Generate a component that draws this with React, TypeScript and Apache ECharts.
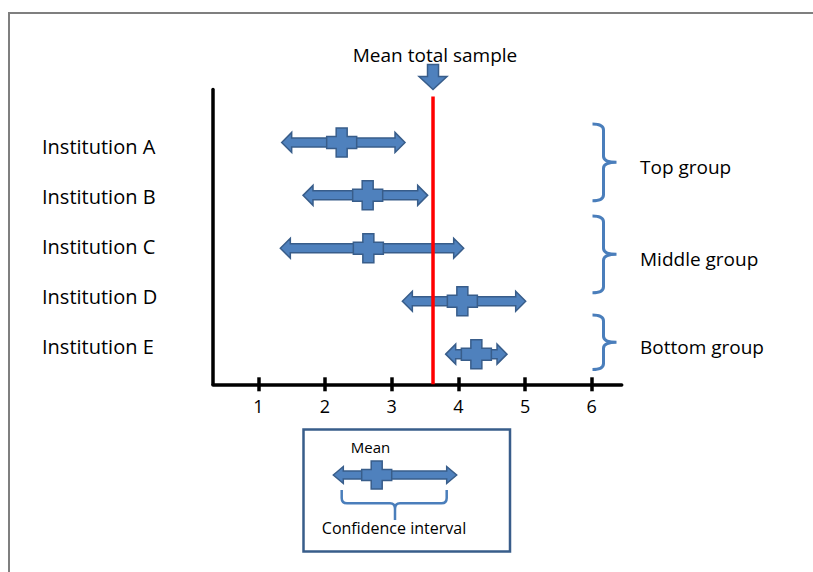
import React, { useEffect, useRef } from "react";
import * as echarts from "echarts";

// ---------- data ----------
const institutions = ["Institution A", "Institution B", "Institution C", "Institution D", "Institution E"];
const ciLow = [1.35, 1.67, 1.33, 3.16, 3.81];
const means = [2.25, 2.64, 2.65, 4.06, 4.27];
const ciHigh = [3.2, 3.54, 4.08, 5.01, 4.73];
const totalMean = 3.62;
const xTicks = [1, 2, 3, 4, 5, 6];
const groupNames = ["Top group", "Middle group", "Bottom group"];
const groupFrom = [-0.35, 1.39, 3.26];
const groupTo = [1.1, 2.84, 4.29];

// ---------- style ----------
const FONT = "'Open Sans', 'Noto Sans', sans-serif";
const FILL = "#4F81BD";
const EDGE = "#385D8A";
const BRACE = "#4A7EBB";
const X_MIN = 0.32;
const X_MAX = 6.45;
const Y_MIN = -1;
const Y_MAX = 4.57;

function arrowPoints(x1: number, x2: number, y: number, sh: number, hh: number, hl: number) {
  return [
    [x1, y], [x1 + hl, y - hh], [x1 + hl, y - sh], [x2 - hl, y - sh], [x2 - hl, y - hh],
    [x2, y], [x2 - hl, y + hh], [x2 - hl, y + sh], [x1 + hl, y + sh], [x1 + hl, y + hh],
  ];
}
function plusPoints(cx: number, cy: number, a: number, b: number, c: number, d: number) {
  return [
    [cx - c, cy - d], [cx + c, cy - d], [cx + c, cy - b], [cx + a, cy - b], [cx + a, cy + b],
    [cx + c, cy + b], [cx + c, cy + d], [cx - c, cy + d], [cx - c, cy + b], [cx - a, cy + b],
    [cx - a, cy - b], [cx - c, cy - b],
  ];
}

const legendBracePath =
  "M 341.7 490 L 341.7 498 Q 341.7 503.3 347 503.3 L 390 503.3 Q 395 503.3 395 509 L 395 520 " +
  "M 395 509 Q 395 503.3 400 503.3 L 441.4 503.3 Q 446.7 503.3 446.7 498 L 446.7 490";

export default function App() {
  const ref = useRef<HTMLDivElement>(null);
  useEffect(() => {
    document.body.style.margin = "0";
    if (!ref.current) return;
    try {
      echarts.graphic.registerShape("legendBrace", echarts.graphic.extendPath(legendBracePath, {}) as any);
    } catch (e) {}
    const chart = echarts.init(ref.current, null, { renderer: "svg" });

    const tickStyle = { color: "#000", width: 3.5 };
    const option: any = {
      animation: false,
      backgroundColor: "#fff",
      grid: { left: 213, right: 191.3, top: 89.5, bottom: 187.7, containLabel: false, outerBoundsMode: "none" },
      xAxis: [
        {
          type: "value", min: X_MIN, max: X_MAX, position: "bottom",
          axisLine: { onZero: false, lineStyle: { color: "#000", width: 3.5 } },
          axisTick: { show: true, customValues: xTicks, length: 7, lineStyle: tickStyle },
          axisLabel: { customValues: xTicks, margin: 13, color: "#000", fontSize: 18, fontFamily: FONT },
          splitLine: { show: false },
        },
        {
          type: "value", min: X_MIN, max: X_MAX, position: "bottom", gridIndex: 0,
          axisLine: { show: false, onZero: false },
          axisTick: { show: true, inside: true, customValues: xTicks, length: 7, lineStyle: tickStyle },
          axisLabel: { show: false },
          splitLine: { show: false },
        },
      ],
      yAxis: [
        {
          type: "value", inverse: true, min: Y_MIN, max: Y_MAX, position: "left",
          axisLine: { show: true, onZero: false, lineStyle: { color: "#000", width: 3.5 } },
          axisTick: { show: false }, axisLabel: { show: false }, splitLine: { show: false },
        },
        {
          type: "value", inverse: true, min: -1.14, max: 4.746, position: "left",
          axisLine: { show: false, onZero: false }, axisTick: { show: false }, splitLine: { show: false },
          axisLabel: {
            customValues: [0, 1, 2, 3, 4],
            formatter: (v: number) => institutions[Math.round(v)] ?? "",
            align: "left", margin: 171, fontSize: 20, color: "#000", fontFamily: FONT,
          },
        },
      ],
      graphic: [
        { type: "rect", shape: { x: 9, y: 13, width: 1000, height: 1000 }, style: { fill: "none", stroke: "#7F7F7F", lineWidth: 2 }, z: 1 },
        { type: "rect", shape: { x: 303.5, y: 429.5, width: 206.5, height: 122 }, style: { fill: "#fff", stroke: EDGE, lineWidth: 2.5 }, z: 1 },
        { type: "text", x: 370.5, y: 447, style: { text: "Mean", fontSize: 15, fontFamily: FONT, fill: "#000", align: "center", verticalAlign: "middle" }, z: 2 },
        { type: "polygon", shape: { points: arrowPoints(333.3, 456.7, 475, 4, 8.5, 10) }, style: { fill: FILL, stroke: EDGE, lineWidth: 1.5 }, z: 2 },
        { type: "polygon", shape: { points: plusPoints(376.7, 475, 15, 5.5, 5.5, 14) }, style: { fill: FILL, stroke: EDGE, lineWidth: 1.5 }, z: 3 },
        { type: "legendBrace", x: 0, y: 0, style: { fill: "none", stroke: BRACE, lineWidth: 2.5 }, z: 2 },
        { type: "text", x: 394, y: 528, style: { text: "Confidence interval", fontSize: 16, fontFamily: FONT, fill: "#000", align: "center", verticalAlign: "middle" }, z: 2 },
      ],
      series: [
        {
          type: "custom", name: "institutions", clip: false, silent: true, z: 3,
          xAxisIndex: 0, yAxisIndex: 0,
          encode: { x: [0, 1, 2], y: 3 },
          data: institutions.map((_, i) => [ciLow[i], ciHigh[i], means[i], i]),
          renderItem: (params: any, api: any) => {
            const row = api.value(3);
            const lo = api.coord([api.value(0), row]);
            const hi = api.coord([api.value(1), row]);
            const m = api.coord([api.value(2), row]);
            return {
              type: "group",
              children: [
                { type: "polygon", shape: { points: arrowPoints(lo[0], hi[0], lo[1], 4.5, 10, 10) }, style: { fill: FILL, stroke: EDGE, lineWidth: 1.5 } },
                { type: "polygon", shape: { points: plusPoints(m[0], m[1], 15, 6, 5.5, 14.5) }, style: { fill: FILL, stroke: EDGE, lineWidth: 1.5 } },
              ],
            };
          },
        },
        {
          type: "custom", name: "totalMean", clip: false, silent: true, z: 5,
          xAxisIndex: 0, yAxisIndex: 0,
          encode: { x: 0, y: 1 },
          data: [[totalMean, Y_MIN]],
          renderItem: (params: any, api: any) => {
            const top = api.coord([api.value(0), Y_MIN]);
            const bot = api.coord([api.value(0), Y_MAX]);
            const x = top[0];
            const t = top[1];
            return {
              type: "group",
              children: [
                { type: "line", shape: { x1: x, y1: t + 7, x2: x, y2: bot[1] }, style: { stroke: "#FF0000", lineWidth: 3.5 } },
                {
                  type: "polygon",
                  shape: { points: [[x - 5.5, t - 25], [x + 5.5, t - 25], [x + 5.5, t - 13], [x + 14, t - 13], [x, t], [x - 14, t - 13], [x - 5.5, t - 13]] },
                  style: { fill: FILL, stroke: EDGE, lineWidth: 1.5 },
                },
                { type: "text", x: x + 2, y: t - 35, style: { text: "Mean total sample", fontSize: 19, fontFamily: FONT, fill: "#000", align: "center", verticalAlign: "middle" } },
              ],
            };
          },
        },
        {
          type: "custom", name: "groups", clip: false, silent: true, z: 3,
          xAxisIndex: 0, yAxisIndex: 0,
          encode: { y: [0, 1] },
          data: groupNames.map((_, i) => [groupFrom[i], groupTo[i]]),
          renderItem: (params: any, api: any) => {
            const i = params.dataIndex;
            const y0 = api.coord([X_MAX, api.value(0)])[1];
            const y1 = api.coord([X_MAX, api.value(1)])[1];
            const ym = (y0 + y1) / 2;
            const x0 = 592.5, x1 = 603.5, x2 = 616.5, r = 6;
            const d =
              `M ${x0} ${y0} Q ${x1} ${y0} ${x1} ${y0 + r} L ${x1} ${ym - r} Q ${x1} ${ym} ${x2} ${ym} ` +
              `Q ${x1} ${ym} ${x1} ${ym + r} L ${x1} ${y1 - r} Q ${x1} ${y1} ${x0} ${y1}`;
            return {
              type: "group",
              children: [
                { type: "path", shape: { pathData: d }, style: { fill: "none", stroke: BRACE, lineWidth: 3 } },
                { type: "text", x: 640, y: ym + 5, style: { text: groupNames[i], fontSize: 19, fontFamily: FONT, fill: "#000", align: "left", verticalAlign: "middle" } },
              ],
            };
          },
        },
      ],
    };
    chart.setOption(option);
    return () => chart.dispose();
  }, []);
  return <div ref={ref} style={{ width: 813, height: 572 }} />;
}
